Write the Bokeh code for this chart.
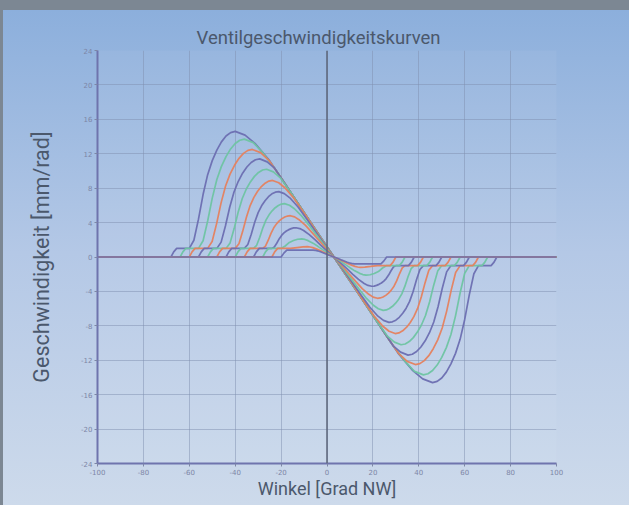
from bokeh.plotting import figure
from bokeh.models import Range1d, FixedTicker, Span
from bokeh.embed import file_html
from bokeh.resources import INLINE

# ---------------- data ----------------
x_ticks = [-100, -80, -60, -40, -20, 0, 20, 40, 60, 80, 100]
y_ticks = [-24, -20, -16, -12, -8, -4, 0, 4, 8, 12, 16, 20, 24]
x_tick_labels = ["-100", "-80", "-60", "-40", "-20", "0", "20", "40", "60", "80", "100"]
y_tick_labels = ["-24", "-20", "-16", "-12", "-8", "-4", "0", "4", "8", "12", "16", "20", "24"]

x0 = [-100, -68, -66.8, -65.5, -60, -58, -56, -54, -52, -50, -48, -46, -44, -42, -40,
      -35.7, -31.4, -24.95, -18.5, -12.05, -5.6, 3,
      11.6, 18.05, 24.5, 30.95, 37.4, 41.7, 46, 48, 50, 52, 54, 56, 58, 60, 62, 64, 66, 71.5, 72.8, 74, 100]
y0 = [0, 0, 0.6, 1.0, 1.0, 1.95, 4.4, 7.26, 9.57, 11.2, 12.42, 13.38, 14.06, 14.46, 14.6,
      14.16, 13.21, 11.17, 8.61, 5.99, 3.36, 0,
      -3.36, -5.99, -8.61, -11.17, -13.21, -14.16, -14.6, -14.46, -14.06, -13.38, -12.42, -11.2, -9.57, -7.26, -4.4, -1.95, -1.0, -1.0, -0.6, 0, 0]

x1 = [-100, -64, -62.8, -61.5, -56, -54, -52, -50, -48, -46, -44, -42, -40, -38, -36,
      -32.1, -28.2, -22.35, -16.5, -10.65, -4.8, 3,
      10.8, 16.65, 22.5, 28.35, 34.2, 38.1, 42, 44, 46, 48, 50, 52, 54, 56, 58, 60, 62, 67.5, 68.8, 70, 100]
y1 = [0, 0, 0.6, 1.0, 1.0, 1.89, 4.18, 6.84, 9.0, 10.53, 11.67, 12.56, 13.19, 13.57, 13.7,
      13.29, 12.19, 10.15, 7.8, 5.45, 3.12, 0,
      -3.12, -5.45, -7.8, -10.15, -12.19, -13.29, -13.7, -13.57, -13.19, -12.56, -11.67, -10.53, -9.0, -6.84, -4.18, -1.89, -1.0, -1.0, -0.6, 0, 0]

x2 = [-100, -60, -58.8, -57.5, -52, -50.05, -48.1, -46.15, -44.2, -42.25, -40.3, -38.35, -36.4, -34.45, -32.5,
      -28.95, -25.4, -20.08, -14.75, -9.43, -4.1, 3,
      10.1, 15.43, 20.75, 26.08, 31.4, 34.95, 38.5, 40.45, 42.4, 44.35, 46.3, 48.25, 50.2, 52.15, 54.1, 56.05, 58, 63.5, 64.8, 66, 100]
y2 = [0, 0, 0.6, 1.0, 1.0, 1.81, 3.88, 6.29, 8.25, 9.63, 10.66, 11.47, 12.04, 12.39, 12.5,
      12.13, 11.27, 9.23, 7.1, 4.96, 2.83, 0,
      -2.83, -4.96, -7.1, -9.23, -11.27, -12.13, -12.5, -12.39, -12.04, -11.47, -10.66, -9.63, -8.25, -6.29, -3.88, -1.81, -1.0, -1.0, -0.6, 0, 0]

x3 = [-100, -56, -54.8, -53.5, -48, -46.13, -44.26, -42.39, -40.52, -38.65, -36.78, -34.91, -33.04, -31.17, -29.3,
      -26.07, -22.84, -18, -13.15, -8.3, -3.46, 3,
      9.46, 14.3, 19.15, 24, 28.84, 32.07, 35.3, 37.17, 39.04, 40.91, 42.78, 44.65, 46.52, 48.39, 50.26, 52.13, 54, 59.5, 60.8, 62, 100]
y3 = [0, 0, 0.6, 1.0, 1.0, 1.73, 3.6, 5.78, 7.55, 8.8, 9.74, 10.46, 10.98, 11.3, 11.4,
      11.06, 10.32, 8.4, 6.45, 4.5, 2.58, 0,
      -2.58, -4.5, -6.45, -8.4, -10.32, -11.06, -11.4, -11.3, -10.98, -10.46, -9.74, -8.8, -7.55, -5.78, -3.6, -1.73, -1.0, -1.0, -0.6, 0, 0]

x4 = [-100, -52, -50.8, -49.5, -44, -42.23, -40.46, -38.69, -36.92, -35.15, -33.38, -31.61, -29.84, -28.07, -26.3,
      -23.37, -20.44, -16.05, -11.65, -7.26, -2.86, 3,
      8.86, 13.26, 17.65, 22.05, 26.44, 29.37, 32.3, 34.07, 35.84, 37.61, 39.38, 41.15, 42.92, 44.69, 46.46, 48.23, 50, 55.5, 56.8, 58, 100]
y4 = [0, 0, 0.6, 1.0, 1.0, 1.64, 3.3, 5.23, 6.8, 7.9, 8.73, 9.37, 9.83, 10.11, 10.2,
      9.89, 9.23, 7.62, 5.85, 4.08, 2.33, 0,
      -2.33, -4.08, -5.85, -7.62, -9.23, -9.89, -10.2, -10.11, -9.83, -9.37, -8.73, -7.9, -6.8, -5.23, -3.3, -1.64, -1.0, -1.0, -0.6, 0, 0]

x5 = [-100, -48, -46.8, -45.5, -40, -38.37, -36.74, -35.11, -33.48, -31.85, -30.22, -28.59, -26.96, -25.33, -23.7,
      -21.03, -18.36, -14.36, -10.35, -6.35, -2.34, 3,
      8.34, 12.35, 16.35, 20.36, 24.36, 27.03, 29.7, 31.33, 32.96, 34.59, 36.22, 37.85, 39.48, 41.11, 42.74, 44.37, 46, 51.5, 52.8, 54, 100]
y5 = [0, 0, 0.6, 1.0, 1.0, 1.55, 2.98, 4.63, 5.98, 6.93, 7.64, 8.19, 8.58, 8.82, 8.9,
      8.63, 8.05, 6.81, 5.25, 3.65, 2.05, 0,
      -2.05, -3.65, -5.25, -6.81, -8.05, -8.63, -8.9, -8.82, -8.58, -8.19, -7.64, -6.93, -5.98, -4.63, -2.98, -1.55, -1.0, -1.0, -0.6, 0, 0]

x6 = [-100, -44, -42.8, -41.5, -36, -34.5, -33, -31.5, -30, -28.5, -27, -25.5, -24, -22.5, -21,
      -18.6, -16.2, -12.6, -9, -5.4, -1.8, 3,
      7.8, 11.4, 15, 18.6, 22.2, 24.6, 27, 28.5, 30, 31.5, 33, 34.5, 36, 37.5, 39, 40.5, 42, 47.5, 48.8, 50, 100]
y6 = [0, 0, 0.6, 1.0, 1.0, 1.46, 2.65, 4.04, 5.16, 5.95, 6.54, 7.01, 7.34, 7.53, 7.6,
      7.37, 6.88, 5.81, 4.48, 3.12, 1.75, 0,
      -1.75, -3.12, -4.48, -5.81, -6.88, -7.37, -7.6, -7.53, -7.34, -7.01, -6.54, -5.95, -5.16, -4.04, -2.65, -1.46, -1.0, -1.0, -0.6, 0, 0]

x7 = [-100, -40, -38.8, -37.5, -32, -30.65, -29.3, -27.95, -26.6, -25.25, -23.9, -22.55, -21.2, -19.85, -18.5,
      -16.35, -14.2, -10.98, -7.75, -4.53, -1.3, 3,
      7.3, 10.53, 13.75, 16.98, 20.2, 22.35, 24.5, 25.85, 27.2, 28.55, 29.9, 31.25, 32.6, 33.95, 35.3, 36.65, 38, 43.5, 44.8, 46, 100]
y7 = [0, 0, 0.6, 1.0, 1.0, 1.36, 2.3, 3.39, 4.28, 4.9, 5.37, 5.73, 5.99, 6.15, 6.2,
      6.01, 5.61, 4.74, 3.66, 2.54, 1.43, 0,
      -1.43, -2.54, -3.66, -4.74, -5.61, -6.01, -6.2, -6.15, -5.99, -5.73, -5.37, -4.9, -4.28, -3.39, -2.3, -1.36, -1.0, -1.0, -0.6, 0, 0]

x8 = [-100, -36, -34.8, -33.5, -28, -26.8, -25.6, -24.4, -23.2, -22, -20.8, -19.6, -18.4, -17.2, -16,
      -14.1, -12.2, -9.35, -6.5, -3.65, -0.8, 3,
      6.8, 9.65, 12.5, 15.35, 18.2, 20.1, 22, 23.2, 24.4, 25.6, 26.8, 28, 29.2, 30.4, 31.6, 32.8, 34, 39.5, 40.8, 42, 100]
y8 = [0, 0, 0.6, 1.0, 1.0, 1.27, 1.95, 2.75, 3.39, 3.85, 4.19, 4.46, 4.65, 4.76, 4.8,
      4.66, 4.34, 3.67, 2.83, 1.97, 1.1, 0,
      -1.1, -1.97, -2.83, -3.67, -4.34, -4.66, -4.8, -4.76, -4.65, -4.46, -4.19, -3.85, -3.39, -2.75, -1.95, -1.27, -1.0, -1.0, -0.6, 0, 0]

x9 = [-100, -32, -30.8, -29.5, -24, -22.95, -21.9, -20.85, -19.8, -18.75, -17.7, -16.65, -15.6, -14.55, -13.5,
      -11.85, -10.2, -7.73, -5.25, -2.78, -0.3, 3,
      6.3, 8.78, 11.25, 13.73, 16.2, 17.85, 19.5, 20.55, 21.6, 22.65, 23.7, 24.75, 25.8, 26.85, 27.9, 28.95, 30, 35.5, 36.8, 38, 100]
y9 = [0, 0, 0.6, 1.0, 1.0, 1.17, 1.6, 2.1, 2.51, 2.8, 3.02, 3.18, 3.3, 3.38, 3.4,
      3.3, 3.08, 2.6, 2.01, 1.39, 0.78, 0,
      -0.78, -1.39, -2.01, -2.6, -3.08, -3.3, -3.4, -3.38, -3.3, -3.18, -3.02, -2.8, -2.51, -2.1, -1.6, -1.17, -1.0, -1.0, -0.6, 0, 0]

x10 = [-100, -28, -26.8, -25.5, -20, -18.2, -16.4, -14.6, -12.8, -11,
       -9.6, -8.2, -6.1, -4, -1.9, 0.2, 3,
       5.8, 7.9, 10, 12.1, 14.2, 15.6, 17, 18.8, 20.6, 22.4, 24.2, 26, 31.5, 32.8, 34, 100]
y10 = [0, 0, 0.6, 1.0, 1.0, 1.28, 1.69, 1.92, 2.06, 2.1,
       2.04, 1.9, 1.61, 1.24, 0.86, 0.48, 0,
       -0.48, -0.86, -1.24, -1.61, -1.9, -2.04, -2.1, -2.06, -1.92, -1.69, -1.28, -1.0, -1.0, -0.6, 0, 0]

x11 = [-100, -24, -22.8, -21.5, -16, -13, -10.5, -8.5,
       -7.35, -6.2, -4.48, -2.75, -1.03, 0.7, 3,
       5.3, 7.03, 8.75, 10.48, 12.2, 13.35, 14.5, 16.5, 19, 22, 27.5, 28.8, 30, 100]
y11 = [0, 0, 0.6, 1.0, 1.0, 1.1, 1.18, 1.2,
       1.16, 1.09, 0.92, 0.71, 0.49, 0.28, 0,
       -0.28, -0.49, -0.71, -0.92, -1.09, -1.16, -1.2, -1.18, -1.1, -1.0, -1.0, -0.6, 0, 0]

x12 = [-100, -20, -18.8, -17.5, -6, -5.1, -4.2, -2.85, -1.5, -0.15, 1.2, 3,
       4.8, 6.15, 7.5, 8.85, 10.2, 11.1, 12, 23.5, 24.8, 26, 100]
y12 = [0, 0, 0.45, 0.8, 0.8, 0.78, 0.72, 0.61, 0.47, 0.33, 0.18, 0,
       -0.18, -0.33, -0.47, -0.61, -0.72, -0.78, -0.8, -0.8, -0.45, 0, 0]

curves_x = [x0, x1, x2, x3, x4, x5, x6, x7, x8, x9, x10, x11, x12]
curves_y = [y0, y1, y2, y3, y4, y5, y6, y7, y8, y9, y10, y11, y12]
palette = ["#6b6eb1", "#6ec4a2", "#e5815e"]

# ---------------- figure ----------------
p = figure(width=629, height=505, output_backend="svg", toolbar_location=None,
           x_range=Range1d(-100, 100), y_range=Range1d(-24, 24),
           min_border_left=97, min_border_right=73, min_border_top=50, min_border_bottom=42,
           title="Ventilgeschwindigkeitskurven")
p.styles = {
    "background": "linear-gradient(to right, #7c8793 0px, #7c8793 3px, rgba(0,0,0,0) 3px), "
                  "linear-gradient(to bottom, #7c8793 0px, #7c8793 10px, #8cafdc 10px, #b4c8e6 50%, #cddaeb 100%)",
}
p.border_fill_alpha = 0
p.background_fill_color = "white"
p.background_fill_alpha = 0.05
p.outline_line_color = None

p.title.align = "left"
p.title.offset = 99
p.title.text_font = "Roboto"
p.title.text_font_size = "18.5px"
p.title.text_font_style = "normal"
p.title.text_color = "#4b586c"
p.title.standoff = 4

for ax, ticks, labels in ((p.xaxis, x_ticks, x_tick_labels), (p.yaxis, y_ticks, y_tick_labels)):
    ax.ticker = FixedTicker(ticks=ticks)
    ax.major_label_overrides = dict(zip(ticks, labels))
    ax.major_label_text_font = "DejaVu Sans"
    ax.major_label_text_font_size = "7px"
    ax.major_label_text_color = "#7d86a6"
    ax.major_label_standoff = 2
    ax.axis_line_color = "#6f74ad"
    ax.axis_line_width = 2
    ax.major_tick_line_color = "#7d86a6"
    ax.major_tick_out = 3
    ax.major_tick_in = 0
    ax.minor_tick_out = 0
    ax.minor_tick_in = 0
    ax.axis_label_text_font = "Roboto"
    ax.axis_label_text_font_style = "normal"
    ax.axis_label_text_color = "#4b586c"

p.xaxis.axis_label = "Winkel [Grad NW]"
p.xaxis.axis_label_text_font_size = "18px"
p.xaxis.axis_label_standoff = 0
p.yaxis.axis_label = "Geschwindigkeit [mm/rad]"
p.yaxis.axis_label_text_font_size = "21.5px"
p.yaxis.axis_label_standoff = 24

p.xgrid.ticker = FixedTicker(ticks=x_ticks)
p.ygrid.ticker = FixedTicker(ticks=y_ticks)
for g in (p.xgrid, p.ygrid):
    g.grid_line_color = "#7f8fb0"
    g.grid_line_alpha = 0.5
    g.grid_line_width = 1

p.add_layout(Span(location=0, dimension="height", line_color="#5b6479", line_width=1.5))

for i, (xs, ys) in enumerate(zip(curves_x, curves_y)):
    p.line(xs, ys, line_color=palette[i % 3], line_width=1.7, line_alpha=0.95)

open("out.html", "w").write(file_html(p, INLINE))
